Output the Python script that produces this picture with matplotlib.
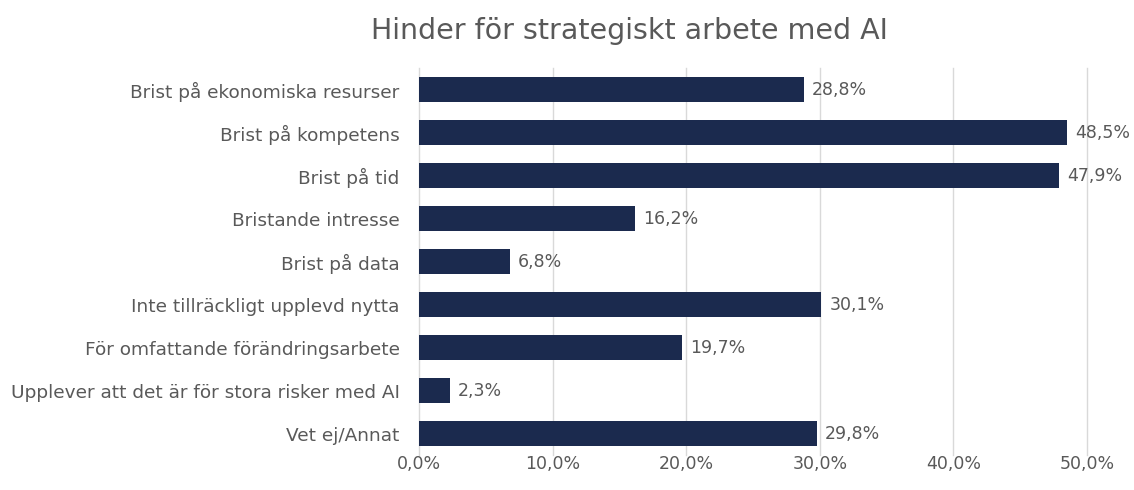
import matplotlib
matplotlib.use("Agg")
import matplotlib.pyplot as plt
from matplotlib.ticker import FuncFormatter

categories = [
    "Brist på ekonomiska resurser",
    "Brist på kompetens",
    "Brist på tid",
    "Bristande intresse",
    "Brist på data",
    "Inte tillräckligt upplevd nytta",
    "För omfattande förändringsarbete",
    "Upplever att det är för stora risker med AI",
    "Vet ej/Annat",
]
values = [28.8, 48.5, 47.9, 16.2, 6.8, 30.1, 19.7, 2.3, 29.8]
xticks = [0, 10, 20, 30, 40, 50]
title = "Hinder för strategiskt arbete med AI"

plt.rcParams['font.family'] = ['DejaVu Sans']
text_color = "#595959"
bar_color = "#1b2a4e"

fig = plt.figure(figsize=(11.34, 4.9), dpi=100)
ax = fig.add_axes([0.3695, 0.0714, 0.5891, 0.7898])

y = list(range(len(categories)))
ax.barh(y, values, height=0.56, color=bar_color, zorder=3)
ax.set_ylim(len(categories) - 0.5, -0.5)
ax.set_xlim(0, 50)
ax.set_yticks(y)
ax.set_yticklabels(categories, fontsize=13.3, color=text_color)
ax.set_xticks(xticks)
ax.xaxis.set_major_formatter(FuncFormatter(lambda v, p: f"{v:.1f}%".replace(".", ",")))
ax.tick_params(axis='x', labelsize=12.5, colors=text_color, length=0, pad=0)
ax.tick_params(axis='y', length=0, pad=14)
ax.grid(axis='x', color="#d9d9d9", linewidth=1, zorder=0)
for gl in ax.get_xgridlines():
    gl.set_clip_on(False)
for s in ax.spines.values():
    s.set_visible(False)

for yi, v in zip(y, values):
    ax.text(v + 0.6, yi, f"{v:.1f}%".replace(".", ","), va='center', ha='left',
            fontsize=12.5, color=text_color)

fig.text(0.555, 0.937, title, ha='center', va='center', fontsize=20.5, color=text_color)

fig.savefig("out.png", dpi=100)
